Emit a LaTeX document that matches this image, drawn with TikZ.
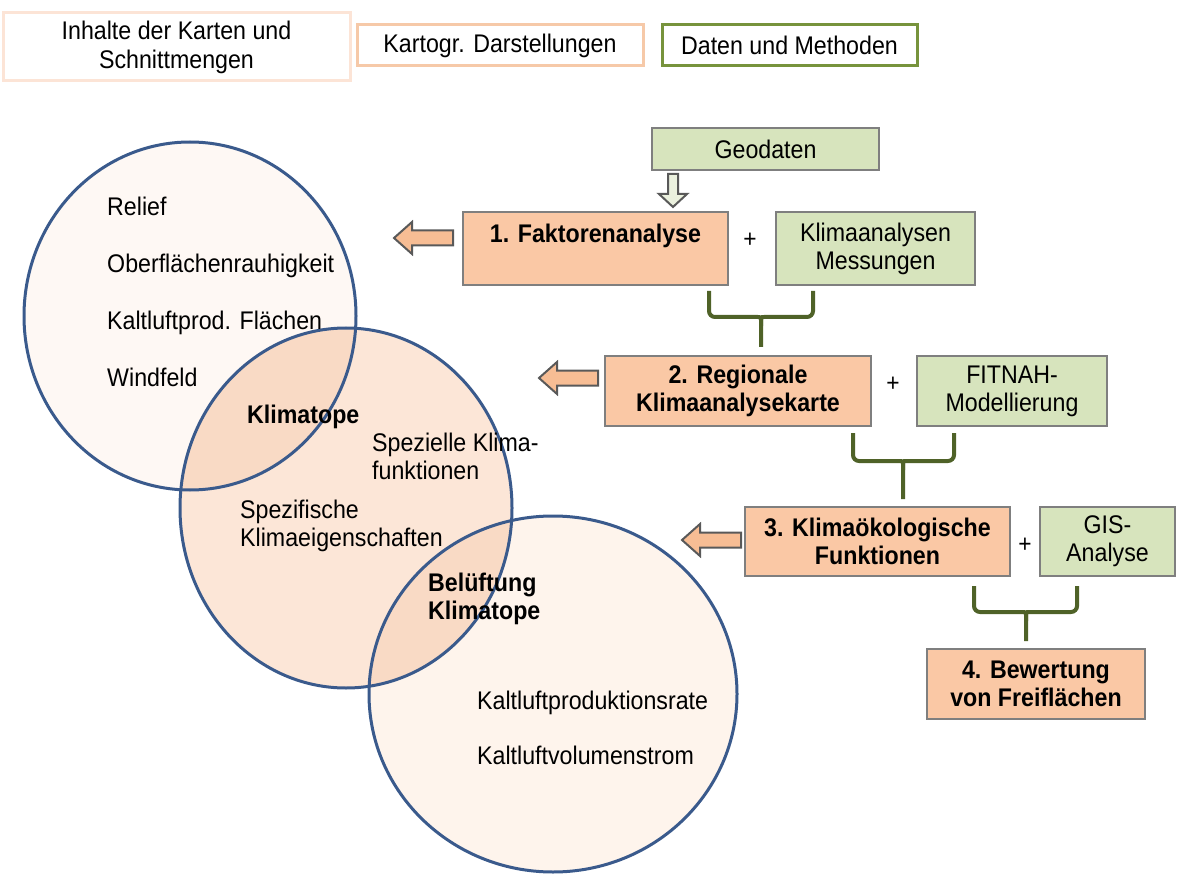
\documentclass[tikz,border=0pt]{standalone}
\usepackage{fontspec}
\setmainfont{Liberation Sans}[FakeStretch=0.91]
\usetikzlibrary{calc}
\definecolor{orfill}{HTML}{FAC8A5}
\definecolor{grfill}{HTML}{D7E4BD}
\definecolor{boxgray}{HTML}{7F7F7F}
\definecolor{bracegreen}{HTML}{4F6228}
\definecolor{legendgreen}{HTML}{77933C}
\definecolor{legendpeach}{HTML}{F6C9A8}
\definecolor{legendlight}{HTML}{FCE4D6}
\definecolor{circblue}{HTML}{3A5A8C}
\definecolor{cfillA}{HTML}{FEF8F4}
\definecolor{cfillB}{HTML}{FCE6D7}
\definecolor{cfillC}{HTML}{FEF4EC}
\definecolor{cfillX}{HTML}{F9DAC5}
\definecolor{arrowor}{HTML}{F7BD94}
\definecolor{arrowgr}{HTML}{EBF1DE}
\definecolor{arrowgray}{HTML}{595959}
\begin{document}
\begin{tikzpicture}[x=1pt,y=-1pt,
  every node/.style={font=\fontsize{25.5}{28}\selectfont, inner sep=0pt},
  orbox/.style={draw=boxgray, line width=2pt, fill=orfill, align=center, font=\fontsize{25.5}{28}\selectfont\bfseries},
  grbox/.style={draw=boxgray, line width=2pt, fill=grfill, align=center},
  legbox/.style={line width=3pt, align=center},
  ctext/.style={anchor=base west, align=left},
  cbold/.style={anchor=base west, align=left, font=\fontsize{25.5}{28}\selectfont\bfseries},
  bracestyle/.style={draw=bracegreen, line width=4pt, rounded corners=6pt},
  circstyle/.style={draw=circblue, line width=3pt},
  plus/.style={font=\fontsize{25}{28}\selectfont},
  larrow/.pic={\draw[fill=arrowor, draw=arrowgray, line width=2pt, line join=miter]
     (0,0) -- (18,-16) -- (18,-7.5) -- (59,-7.5) -- (59,7.5) -- (18,7.5) -- (18,16) -- cycle;},
  darrow/.pic={\draw[fill=arrowgr, draw=arrowgray, line width=2pt, line join=miter]
     (-5,0) -- (5,0) -- (5,20) -- (14,20) -- (0,33) -- (-14,20) -- (-5,20) -- cycle;}
]
\useasboundingbox (0,0) rectangle (1188,874);

% ---- circles ----
\fill[cfillA] (190,316) ellipse [x radius=166, y radius=174];
\fill[cfillB] (346,508) ellipse [x radius=166, y radius=180];
\fill[cfillC] (553,694) ellipse [x radius=184, y radius=178];
\begin{scope}
  \clip (190,316) ellipse [x radius=166, y radius=174];
  \fill[cfillX] (346,508) ellipse [x radius=166, y radius=180];
\end{scope}
\begin{scope}
  \clip (553,694) ellipse [x radius=184, y radius=178];
  \fill[cfillX] (346,508) ellipse [x radius=166, y radius=180];
\end{scope}
\draw[circstyle] (190,316) ellipse [x radius=166, y radius=174];
\draw[circstyle] (346,508) ellipse [x radius=166, y radius=180];
\draw[circstyle] (553,694) ellipse [x radius=184, y radius=178];

% ---- circle texts ----
\node[ctext] (relief) at (107,216) {Relief};
\node[ctext] (ober) at (107,273) {Oberflächenrauhigkeit};
\node[ctext] (kalt) at (107,330) {Kaltluftprod. Flächen};
\node[ctext] (wind) at (107,386) {Windfeld};
\node[cbold] (klimatope) at (247,423) {Klimatope};
\node[ctext] (spez) at (372,479) {Spezielle Klima-\\funktionen};
\node[ctext] (spezif) at (240,546) {Spezifische\\Klimaeigenschaften};
\node[cbold] (belueft) at (428,619) {Belüftung\\Klimatope};
\node[ctext] (rate) at (477,709) {Kaltluftproduktionsrate};
\node[ctext] (strom) at (477,764) {Kaltluftvolumenstrom};

% ---- legend ----
\node[legbox, draw=legendlight, minimum width=347pt, minimum height=68pt, font=\fontsize{25.5}{29}\selectfont] (legA) at (176.5,47) {Inhalte der Karten und\\Schnittmengen};
\node[legbox, draw=legendpeach, minimum width=286pt, minimum height=41pt] (legB) at (500,45.5) {Kartogr. Darstellungen};
\node[legbox, draw=legendgreen, minimum width=255pt, minimum height=41pt] (legC) at (789.5,45.5) {Daten und Methoden};

% ---- boxes ----
\node[grbox, minimum width=227pt, minimum height=42pt] (geo) at (765.5,149) {Geodaten};
\node[orbox, minimum width=265pt, minimum height=73pt, text depth=31pt] (b1) at (595.5,248.5) {1. Faktorenanalyse};
\node[grbox, minimum width=199pt, minimum height=73pt] (m1) at (875.5,248.5) {Klimaanalysen\\Messungen};
\node[plus] (p1) at (750,240) {+};
\node[orbox, minimum width=266pt, minimum height=70pt] (b2) at (738,391) {2. Regionale\\Klimaanalysekarte};
\node[grbox, minimum width=190pt, minimum height=70pt] (m2) at (1012,391) {FITNAH-\\Modellierung};
\node[plus] (p2) at (893,384) {+};
\node[orbox, minimum width=265pt, minimum height=69pt] (b3) at (877.5,541.5) {3. Klimaökologische\\Funktionen};
\node[grbox, minimum width=135pt, minimum height=69pt] (m3) at (1107.5,541.5) {GIS-\\Analyse};
\node[plus] (p3) at (1025,545) {+};
\node[orbox, minimum width=218pt, minimum height=70pt] (b4) at (1036,684) {4. Bewertung\\von Freiflächen};

% ---- block arrows ----
\pic at ($(b1.west)+(-68,-10.5)$) {larrow};
\pic at ($(b2.west)+(-65,-13)$) {larrow};
\pic at ($(b3.west)+(-62,-1.5)$) {larrow};
\pic at ($(geo.south)+(-92.5,3)$) {darrow};

% ---- braces ----
\coordinate (br1l) at ($(b1.south east)+(-20,5)$);
\coordinate (br1r) at ($(m1.south west)+(38,5)$);
\coordinate (br1s) at ($(b2.north)+(23,-8)$);
\draw[bracestyle] (br1l) -- (br1l |- 0,317) -- (752,317) .. controls (br1s |- 0,317) .. (761,326) -- (br1s);
\draw[bracestyle] (br1r) -- (br1r |- 0,317) -- (770,317) .. controls (br1s |- 0,317) .. (761,326);

\coordinate (br2l) at ($(b2.south east)+(-19,6)$);
\coordinate (br2r) at ($(m2.south west)+(38,6)$);
\coordinate (br2s) at ($(b3.north)+(25.5,-7)$);
\draw[bracestyle] (br2l) -- (br2l |- 0,461) -- (894,461) .. controls (br2s |- 0,461) .. (903,470) -- (br2s);
\draw[bracestyle] (br2r) -- (br2r |- 0,461) -- (912,461) .. controls (br2s |- 0,461) .. (903,470);

\coordinate (br3l) at ($(b3.south east)+(-37,9)$);
\coordinate (br3r) at ($(m3.south west)+(38,9)$);
\coordinate (br3s) at ($(b4.north)+(-10,-7)$);
\draw[bracestyle] (br3l) -- (br3l |- 0,612) -- (1017,612) .. controls (br3s |- 0,612) .. (1026,621) -- (br3s);
\draw[bracestyle] (br3r) -- (br3r |- 0,612) -- (1035,612) .. controls (br3s |- 0,612) .. (1026,621);
\end{tikzpicture}
\end{document}
